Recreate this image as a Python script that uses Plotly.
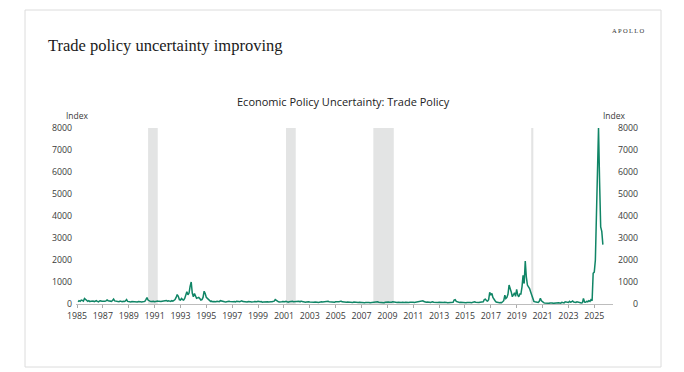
import pandas as pd
import plotly.graph_objects as go

# Monthly Economic Policy Uncertainty: Trade Policy index
tpu_1985_1994 = [
    100, 150, 120, 180, 160, 130, 250, 200, 140, 120, 150, 110,   # 1985
    130, 150, 140, 110, 130, 150, 120, 100, 140, 150, 120, 110,   # 1986
    130, 120, 140, 180, 150, 130, 110, 120, 160, 220, 140, 130,   # 1987
    110, 120, 100, 130, 110, 100, 120, 110, 140, 200, 120, 100,   # 1988
    100, 90, 110, 100, 120, 110, 100, 90, 110, 120, 100, 90,      # 1989
    100, 110, 120, 200, 290, 180, 130, 120, 110, 130, 120, 100,   # 1990
    120, 110, 130, 120, 100, 110, 120, 130, 110, 140, 160, 130,   # 1991
    150, 130, 120, 150, 130, 160, 200, 300, 430, 350, 200, 180,   # 1992
    250, 200, 180, 250, 400, 560, 420, 500, 800, 1000, 500, 330,  # 1993
    480, 350, 260, 280, 300, 250, 180, 200, 300, 580, 480, 300,   # 1994
]
tpu_1995_2004 = [
    250, 200, 150, 120, 130, 100, 110, 90, 100, 120, 110, 100,    # 1995
    150, 130, 120, 110, 100, 90, 110, 100, 120, 110, 100, 90,     # 1996
    100, 110, 90, 120, 130, 110, 100, 120, 140, 110, 100, 90,     # 1997
    100, 90, 110, 120, 100, 90, 80, 100, 110, 90, 100, 120,       # 1998
    90, 100, 110, 80, 90, 100, 110, 120, 100, 90, 110, 100,       # 1999
    100, 110, 130, 200, 150, 110, 100, 90, 80, 100, 110, 90,      # 2000
    100, 120, 90, 80, 100, 110, 90, 120, 100, 110, 90, 100,       # 2001
    110, 120, 100, 130, 110, 90, 100, 80, 90, 110, 100, 90,       # 2002
    80, 90, 70, 80, 90, 100, 80, 70, 90, 80, 100, 90,             # 2003
    100, 80, 90, 110, 120, 100, 90, 80, 70, 90, 80, 100,          # 2004
]
tpu_2005_2014 = [
    90, 80, 100, 110, 130, 100, 90, 80, 70, 80, 90, 80,           # 2005
    70, 80, 60, 70, 90, 80, 70, 60, 70, 80, 70, 60,               # 2006
    60, 70, 60, 70, 80, 60, 70, 60, 70, 80, 70, 90,               # 2007
    80, 90, 100, 80, 70, 90, 80, 70, 60, 80, 90, 70,              # 2008
    90, 80, 70, 80, 100, 90, 70, 60, 70, 80, 70, 60,              # 2009
    70, 80, 60, 70, 80, 70, 60, 70, 80, 90, 100, 80,              # 2010
    70, 80, 90, 100, 80, 90, 100, 130, 150, 110, 90, 80,          # 2011
    90, 100, 80, 70, 90, 100, 80, 70, 90, 80, 70, 80,             # 2012
    70, 80, 60, 70, 80, 90, 70, 60, 70, 80, 90, 70,               # 2013
    80, 180, 200, 120, 90, 80, 70, 80, 70, 60, 80, 70,            # 2014
]
tpu_2015_2025 = [
    60, 70, 80, 90, 70, 60, 80, 70, 100, 80, 70, 90,              # 2015
    70, 80, 90, 80, 100, 200, 220, 150, 130, 200, 530, 400,       # 2016
    480, 300, 180, 150, 90, 70, 60, 60, 70, 60, 100, 150,         # 2017
    400, 250, 300, 450, 860, 630, 550, 330, 400, 510, 350, 660,   # 2018
    405, 330, 450, 450, 780, 1300, 930, 1950, 1230, 860, 780, 700,  # 2019
    550, 400, 250, 120, 100, 80, 60, 70, 120, 260, 150, 90,       # 2020
    60, 50, 40, 50, 40, 30, 40, 50, 40, 30, 40, 50,               # 2021
    40, 50, 60, 50, 40, 80, 60, 50, 100, 80, 60, 70,              # 2022
    120, 80, 100, 140, 90, 80, 70, 100, 80, 60, 70, 50,           # 2023
    60, 250, 90, 80, 120, 100, 150, 120, 200, 150, 1400, 1450,    # 2024
    2000, 4300, 6300, 8000, 5500, 3500, 3300, 2700,               # 2025
]
series_start = "1985-01-31"

recession_starts = ["1990-07-01", "2001-03-01", "2007-12-01", "2020-02-15"]
recession_ends = ["1991-03-31", "2001-11-30", "2009-06-30", "2020-04-15"]

y_ticks = [0, 1000, 2000, 3000, 4000, 5000, 6000, 7000, 8000]

main_title = "Trade policy uncertainty improving"
chart_title = "Economic Policy Uncertainty: Trade Policy"
brand = "APOLLO"
unit_label = "Index"

values = tpu_1985_1994 + tpu_1995_2004 + tpu_2005_2014 + tpu_2015_2025
dates = pd.date_range(series_start, periods=len(values), freq="ME")

# geometry: page pixels; the page body adds an 8px margin around the figure
OFF = 8
W, H = 684 - OFF, 372 - OFF
L, R, T, B = 76, 613, 127, 304          # plot area in page pixels
pw, ph = R - L, B - T
def px(x):
    return (x - L) / pw
def py(y):
    return (B - y) / ph

LINE = "#108566"
TICK_COLOR = "#3a3a3a"
SANS = "Open Sans, Noto Sans, sans-serif"

fig = go.Figure()
fig.add_trace(go.Scatter(
    x=dates, y=values, mode="lines",
    line=dict(color=LINE, width=1.5),
    hoverinfo="x+y", showlegend=False,
))
# invisible trace on right axis so it is drawn
fig.add_trace(go.Scatter(x=dates[:1], y=values[:1], yaxis="y2",
                         mode="lines", line=dict(width=0),
                         showlegend=False, hoverinfo="skip"))

shapes = []
for s, e in zip(recession_starts, recession_ends):
    shapes.append(dict(type="rect", xref="x", yref="y", x0=s, x1=e,
                       y0=0, y1=8000, fillcolor="#e3e4e4",
                       line=dict(width=0), layer="below"))
# card border
shapes.append(dict(type="rect", xref="paper", yref="paper",
                   x0=px(25), x1=px(661), y0=py(367), y1=py(10),
                   line=dict(color="#dcdcdc", width=1), fillcolor="rgba(0,0,0,0)",
                   layer="below"))

fs = "\u2007"
right_text = [fs * (4 - len(str(v))) + str(v) for v in y_ticks]

annotations = [
    dict(text=main_title, xref="paper", yref="paper", x=px(46), y=py(45),
         xanchor="left", yanchor="middle", showarrow=False,
         font=dict(family="Liberation Serif, serif", size=16.5, color="#1a1a1a")),
    dict(text="\u2009".join(brand), xref="paper", yref="paper", x=px(628), y=py(30),
         xanchor="center", yanchor="middle", showarrow=False,
         font=dict(family="Liberation Serif, serif", size=6.5, color="#333")),
    dict(text=chart_title, xref="paper", yref="paper", x=px(343), y=py(101),
         xanchor="center", yanchor="middle", showarrow=False,
         font=dict(family=SANS, size=11, color="#222")),
    dict(text=unit_label, xref="paper", yref="paper", x=px(77), y=py(115),
         xanchor="center", yanchor="middle", showarrow=False,
         font=dict(family=SANS, size=8.5, color=TICK_COLOR)),
    dict(text=unit_label, xref="paper", yref="paper", x=px(614), y=py(115),
         xanchor="center", yanchor="middle", showarrow=False,
         font=dict(family=SANS, size=8.5, color=TICK_COLOR)),
]

fig.update_layout(
    width=W, height=H,
    margin=dict(l=L - OFF, r=W - (R - OFF), t=T - OFF, b=H - (B - OFF), pad=0),
    paper_bgcolor="white", plot_bgcolor="white",
    shapes=shapes, annotations=annotations,
    xaxis=dict(
        type="date", range=["1984-12-03", "2026-06-13"],
        tick0="1985-01-01", dtick="M24", tickformat="%Y",
        ticks="outside", ticklen=3, tickcolor="#aaa",
        showline=True, linecolor="#bdbdbd", linewidth=1,
        showgrid=False, zeroline=False,
        tickfont=dict(family=SANS, size=8.8, color=TICK_COLOR),
    ),
    yaxis=dict(
        range=[0, 8045], tickvals=y_ticks, showgrid=False, zeroline=False,
        showline=False, ticks="", ticklabelstandoff=3,
        tickfont=dict(family=SANS, size=8.8, color=TICK_COLOR),
    ),
    yaxis2=dict(
        range=[0, 8045], overlaying="y", side="right",
        tickvals=y_ticks, ticktext=right_text, showgrid=False, zeroline=False,
        showline=False, ticks="", ticklabelstandoff=4,
        tickfont=dict(family=SANS, size=8.8, color=TICK_COLOR),
    ),
)

fig.write_html("out.html")
